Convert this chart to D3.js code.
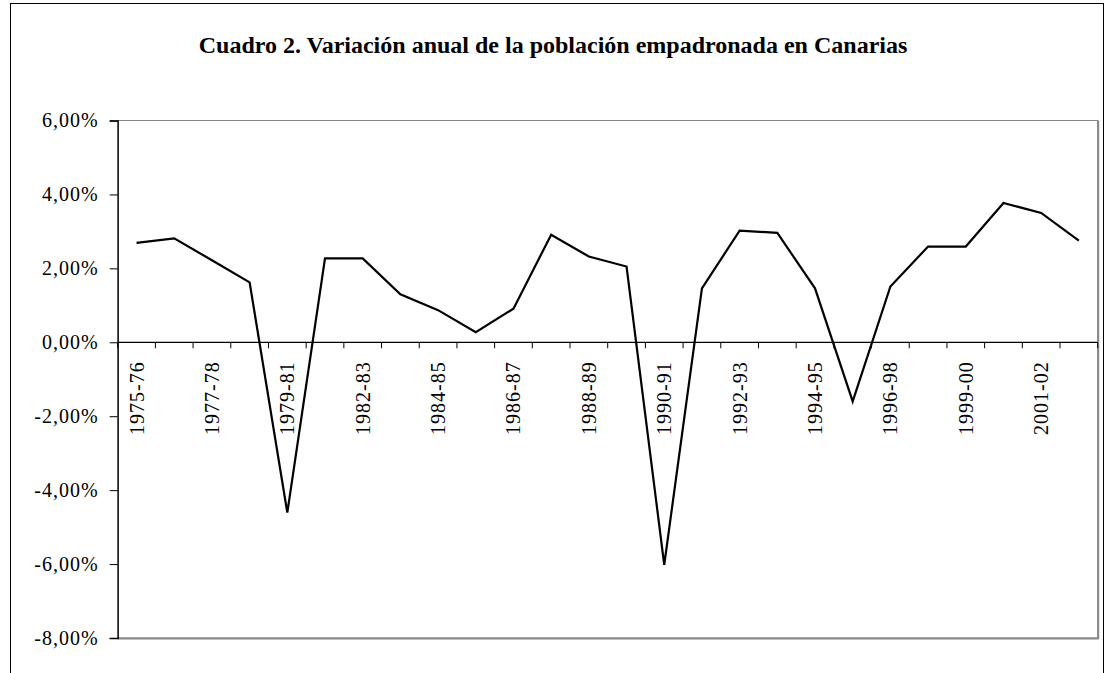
<!DOCTYPE html>
<html>
<head>
<meta charset="utf-8">
<script src="https://cdn.jsdelivr.net/npm/d3@7/dist/d3.min.js"></script>
<style>
  body { margin: 0; background: #fff; }
  text { font-family: "Liberation Serif", "Times New Roman", serif; fill: #000; }
  .title { font-weight: bold; font-size: 24px; }
  .tick-label { font-size: 20px; letter-spacing: 1px; }
</style>
</head>
<body>
<div id="chart"></div>
<script>
/*
Data: annual change of registered population, Canary Islands
*/
var chartTitle = "Cuadro 2. Variación anual de la población empadronada en Canarias";

var periods = [
	"1975-76", "1976-77", "1977-78", "1978-79", "1979-81", "1981-82",
	"1982-83", "1983-84", "1984-85", "1985-86", "1986-87", "1987-88",
	"1988-89", "1989-90", "1990-91", "1991-92", "1992-93", "1993-94",
	"1994-95", "1995-96", "1996-98", "1998-99", "1999-00", "2000-01",
	"2001-02", "2002-03"
];

// percent
var variation = [
	2.69, 2.81, 2.22, 1.62, -4.61, 2.27,
	2.27, 1.30, 0.87, 0.27, 0.91, 2.91,
	2.32, 2.05, -6.02, 1.46, 3.02, 2.96,
	1.46, -1.60, 1.51, 2.59, 2.59, 3.77,
	3.50, 2.75
];

var yTicks = [-8, -6, -4, -2, 0, 2, 4, 6];
var yTickLabels = ["-8,00%", "-6,00%", "-4,00%", "-2,00%", "0,00%", "2,00%", "4,00%", "6,00%"];

/*
Sizes
*/
var width = 1106, height = 673;
var plot = { left: 117.7, top: 120.5, right: 1097.7, bottom: 638 };

var svg = d3.select("#chart").append("svg")
	.attr("width", width)
	.attr("height", height);

// Outer chart frame
svg.append("rect")
	.attr("x", 10.5).attr("y", 3.5)
	.attr("width", 1093).attr("height", 700)
	.attr("fill", "none")
	.attr("stroke", "#000")
	.attr("stroke-width", 1);

// Title
svg.append("text")
	.attr("class", "title")
	.attr("x", width / 2)
	.attr("y", 53)
	.attr("text-anchor", "middle")
	.text(chartTitle);

/*
Scales
*/
var xScale = d3.scaleBand()
	.domain(periods)
	.range([plot.left, plot.right])
	.padding(0);

var yScale = d3.scaleLinear()
	.domain([-8, 6])
	.range([plot.bottom, plot.top]);

// Plot area border (grey)
svg.append("rect")
	.attr("x", plot.left).attr("y", plot.top)
	.attr("width", plot.right - plot.left)
	.attr("height", plot.bottom - plot.top)
	.attr("fill", "none")
	.attr("stroke", "#888")
	.attr("stroke-width", 1);

svg.append("line")
	.attr("x1", plot.left).attr("x2", plot.right + 1)
	.attr("y1", plot.bottom + 0.5).attr("y2", plot.bottom + 0.5)
	.attr("stroke", "#888").attr("stroke-width", 2);

svg.append("line")
	.attr("x1", plot.right + 0.5).attr("x2", plot.right + 0.5)
	.attr("y1", plot.top).attr("y2", plot.bottom + 1)
	.attr("stroke", "#888").attr("stroke-width", 2);

/*
Y axis
*/
var yAxis = d3.axisLeft(yScale)
	.tickValues(yTicks)
	.tickSize(8)
	.tickPadding(11)
	.tickFormat(function(d, i) { return yTickLabels[i]; });

var gY = svg.append("g")
	.attr("transform", "translate(" + plot.left + ",0)")
	.call(yAxis);

gY.select(".domain").attr("stroke", "#000").attr("stroke-width", 1.3);
gY.selectAll(".tick line").attr("stroke", "#000");
gY.selectAll(".tick text")
	.attr("class", "tick-label")
	.attr("fill", "#000")
	.attr("font-family", null)
	.attr("font-size", null);

/*
X axis at zero, ticks between categories
*/
var y0 = yScale(0);
svg.append("line")
	.attr("x1", plot.left).attr("x2", plot.right)
	.attr("y1", y0).attr("y2", y0)
	.attr("stroke", "#000").attr("stroke-width", 1.2);

var boundaries = periods.map(function(p) { return xScale(p); }).concat([plot.right]);
svg.append("g").selectAll("line")
	.data(boundaries)
	.enter().append("line")
	.attr("x1", function(d) { return d; })
	.attr("x2", function(d) { return d; })
	.attr("y1", y0).attr("y2", y0 + 6)
	.attr("stroke", "#000").attr("stroke-width", 1);

svg.append("g").selectAll("text")
	.data(periods.filter(function(p, i) { return i % 2 === 0; }))
	.enter().append("text")
	.attr("class", "tick-label")
	.attr("text-anchor", "end")
	.attr("dy", "0.35em")
	.attr("transform", function(d) {
		var cx = xScale(d) + xScale.bandwidth() / 2;
		return "translate(" + cx + "," + (y0 + 19) + ") rotate(-90)";
	})
	.text(function(d) { return d; });

/*
Line
*/
var line = d3.line()
	.x(function(d, i) { return xScale(periods[i]) + xScale.bandwidth() / 2; })
	.y(function(d) { return yScale(d); });

svg.append("path")
	.datum(variation)
	.attr("d", line)
	.attr("fill", "none")
	.attr("stroke", "#000")
	.attr("stroke-width", 2.2)
	.attr("stroke-linejoin", "miter");
</script>
</body>
</html>
